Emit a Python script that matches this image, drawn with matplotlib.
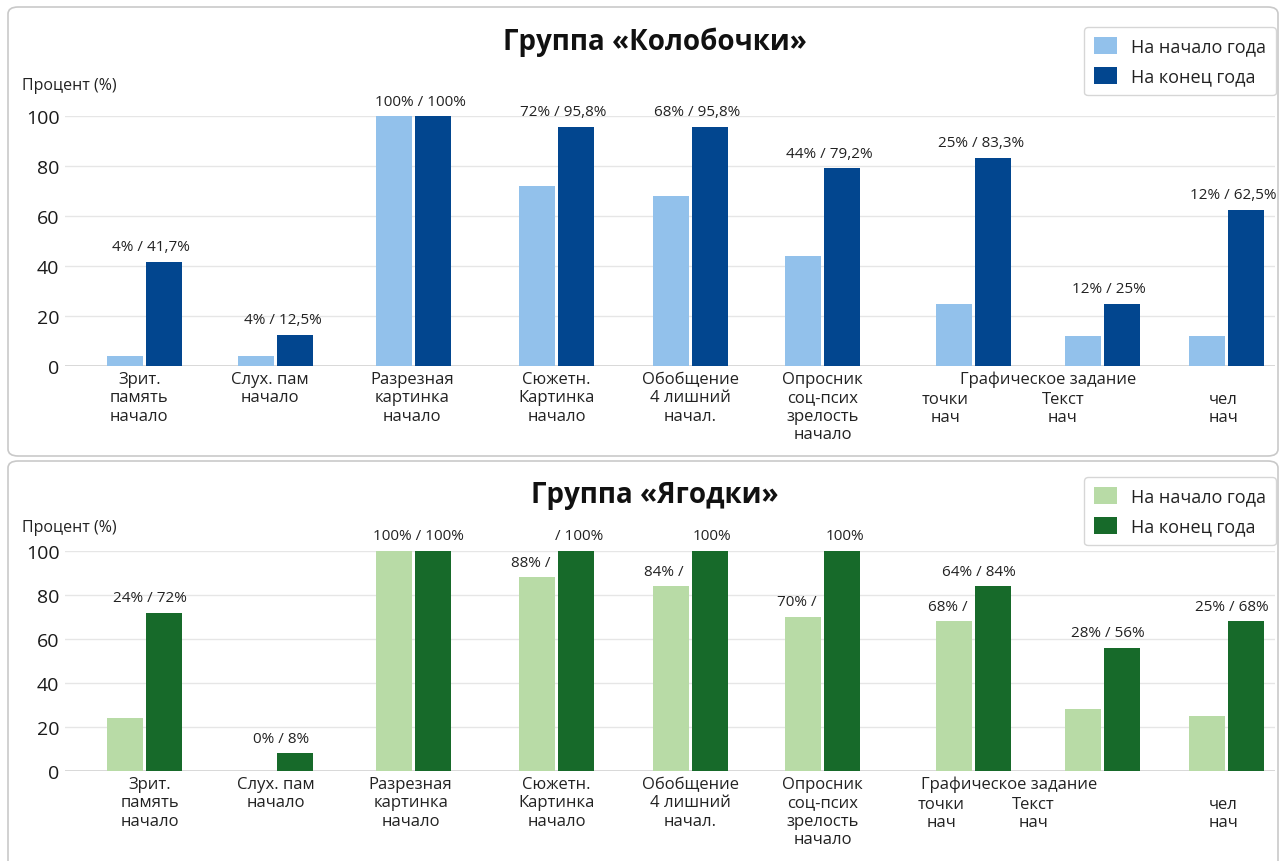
import matplotlib
matplotlib.use("Agg")
import matplotlib.pyplot as plt
from matplotlib.patches import FancyBboxPatch, Patch
import matplotlib.transforms as mtransforms

plt.rcParams['font.family'] = ['Open Sans', 'DejaVu Sans']

# categories (shared by both groups)
categories = ["Зрит.\nпамять\nначало", "Слух. пам\nначало", "Разрезная\nкартинка\nначало",
              "Сюжетн.\nКартинка\nначало", "Обобщение\n4 лишний\nначал.",
              "Опросник\nсоц-псих\nзрелость\nначало", "точки\nнач", "Текст\nнач", "чел\nнач"]
# the last three sit under a shared caption, one line lower
second_row = [False, False, False, False, False, False, True, True, True]
group_caption = "Графическое задание"
legend_labels = ["На начало года", "На конец года"]
yticks = [0, 20, 40, 60, 80, 100]

# group «Колобочки»
kolob_start = [4, 4, 100, 72, 68, 44, 25, 12, 12]
kolob_end = [41.7, 12.5, 100, 95.8, 95.8, 79.2, 83.3, 25, 62.5]
kolob_labels = ["4% / 41,7%", "4% / 12,5%", "100% / 100%", "72% / 95,8%", "68% / 95,8%",
                "44% / 79,2%", "25% / 83,3%", "12% / 25%", "12% / 62,5%"]

# group «Ягодки»
yag_start = [24, 0, 100, 88, 84, 70, 68, 28, 25]
yag_end = [72, 8, 100, 100, 100, 100, 84, 56, 68]
yag_pair_labels = ["24% / 72%", "0% / 8%", "100% / 100%", None, None, None,
                   "64% / 84%", "28% / 56%", "25% / 68%"]
yag_start_labels = [None, None, None, "88% /", "84% /", "70% /", "68% /", None, None]
yag_end_labels = [None, None, None, "/ 100%", "100%", "100%", None, None, None]

W, H = 1281, 862
fig = plt.figure(figsize=(W / 100, H / 100), dpi=100)

# panel frames
for y0, y1 in [(8, 457), (462, 880)]:
    fig.patches.append(FancyBboxPatch((8 / W, 1 - y1 / H), 1270 / W, (y1 - y0) / H,
                                      boxstyle="round,pad=0,rounding_size=0.008",
                                      transform=fig.transFigure, facecolor='white',
                                      edgecolor='#c9c9c9', linewidth=1.2, zorder=-5))

bar_pos = [0.03, 1.0, 2.02, 3.08, 4.07, 5.05, 6.17, 7.12, 8.04]
bw = 0.266
off = 0.144


def draw_panel(ax_px, title, title_y, ylabel_y, start, end, colors, label_pos, caption_x,
               leg_box):
    x0, ytop, ybot = ax_px
    ax = fig.add_axes([x0 / W, 1 - ybot / H, (1275 - x0) / W, (ybot - ytop) / H])
    ax.set_facecolor('none')
    ax.bar([p - off for p in bar_pos], start, width=bw, color=colors[0], zorder=2)
    ax.bar([p + off for p in bar_pos], end, width=bw, color=colors[1], zorder=2)
    ax.set_xlim(-0.56, 8.40)
    ax.set_ylim(0, 100)
    ax.set_yticks(yticks)
    ax.tick_params(axis='y', length=0, pad=4, labelsize=14, labelcolor='#1a1a1a')
    ax.set_xticks([])
    ax.grid(axis='y', color='#e6e6e6', linewidth=1, zorder=0)
    for s in ax.spines.values():
        s.set_visible(False)
    ax.axhline(0, color='#cfcfcf', linewidth=1.2, zorder=1)

    tr1 = mtransforms.offset_copy(ax.transData, fig=fig, y=-5, units='dots')
    tr2 = mtransforms.offset_copy(ax.transData, fig=fig, y=-25, units='dots')
    for lab, xp, low in zip(categories, label_pos, second_row):
        ax.text(xp, 0, lab, transform=tr2 if low else tr1, ha='center', va='top',
                fontsize=12, color='#222222', linespacing=1.2)
    ax.text(caption_x, 0, group_caption, transform=tr1, ha='center', va='top',
            fontsize=12, color='#222222')

    fig.text(655 / W, 1 - title_y / H, title, ha='center', va='center',
             fontsize=20, fontweight='bold', color='#111111')
    fig.text(22 / W, 1 - ylabel_y / H, "Процент (%)", ha='left', va='center',
             fontsize=11.5, color='#222222')

    handles = [Patch(facecolor=c, edgecolor='none') for c in colors]
    leg = fig.legend(handles, legend_labels, loc='upper right',
                     bbox_to_anchor=(leg_box[0] / W, 1 - leg_box[1] / H),
                     fontsize=13, frameon=True, fancybox=True, handlelength=1.25,
                     handleheight=1.1, handletextpad=0.8, labelspacing=0.6,
                     borderpad=0.55, borderaxespad=0, labelcolor='#222222')
    leg.get_frame().set_edgecolor('#cccccc')
    leg.get_frame().set_linewidth(1.0)
    return ax


def value_label(ax, x, y, text):
    tr = mtransforms.offset_copy(ax.transData, fig=fig, y=15, units='dots')
    ax.text(x, y, text, transform=tr, ha='center', va='center', fontsize=11,
            color='#222222', clip_on=False)


# top panel
ax1 = draw_panel((65, 117, 367), "Группа «Колобочки»", 42, 86, kolob_start, kolob_end,
                 ['#92c1eb', '#02468f'],
                 [-0.01, 0.96, 2.01, 3.08, 4.07, 5.05, 5.96, 6.83, 8.02], 6.72, (1276, 28))
for p, a, b, lab in zip(bar_pos, kolob_start, kolob_end, kolob_labels):
    value_label(ax1, p + 0.05, max(a, b), lab)

# bottom panel
ax2 = draw_panel((65, 552, 772), "Группа «Ягодки»", 496, 528, yag_start, yag_end,
                 ['#b8dba6', '#176a2a'],
                 [0.07, 1.0, 2.0, 3.08, 4.07, 5.05, 5.93, 6.61, 8.02], 6.43, (1276, 478))
for p, a, b, pl, sl, el in zip(bar_pos, yag_start, yag_end, yag_pair_labels,
                               yag_start_labels, yag_end_labels):
    if pl:
        value_label(ax2, p + 0.04, max(a, b), pl)
    if sl:
        value_label(ax2, p - off - 0.05, a, sl)
    if el:
        value_label(ax2, p + off + 0.02, b, el)

fig.savefig("out.png", dpi=100, facecolor='white')
